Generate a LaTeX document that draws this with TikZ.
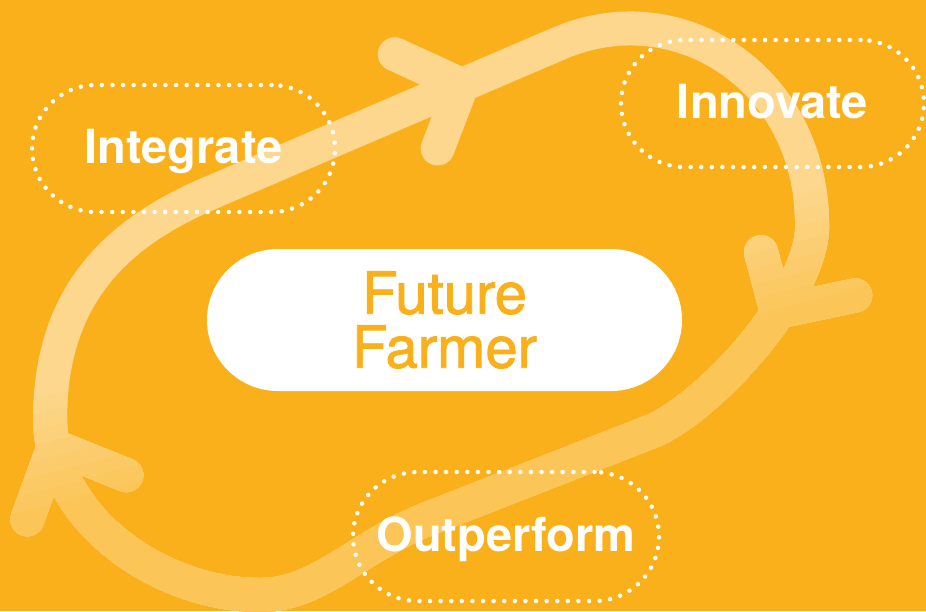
\documentclass[tikz,border=0pt]{standalone}
\usepackage{fontspec}
\setmainfont{TeX Gyre Heros}
\newfontfamily\farmerfont[FakeBold=1.5]{TeX Gyre Heros}
\definecolor{harvest}{RGB}{250,176,27}
\tikzstyle{stage}=[draw=white, line width=4.5pt, dash pattern=on 0pt off 10.6pt, line cap=round,
  minimum width=303pt, minimum height=127pt, rounded corners=63.5pt, inner sep=0pt,
  text=white, font=\fontsize{47}{50}\selectfont\bfseries, text height=34pt, text depth=4pt]
\tikzset{core/.style={fill=white, minimum width=475pt, minimum height=142pt, rounded corners=71pt,
  text=harvest, align=center, font=\fontsize{58}{54}\selectfont\farmerfont}}
\tikzset{band/.style={line width=34pt, line cap=round, line join=round}}

% the loop and its three arrowheads, in one colour
\newcommand{\cyclepath}[1]{%
  \draw[band, draw=#1] (210,193) -- (560,43)
    .. controls (680,-8) and (815,80) .. (812,230)
    .. controls (808,300) and (706,410) .. (650,432)
    -- (430,518)
    .. controls (356,547) and (320,595) .. (260,595)
    .. controls (160,595) and (52,520) .. (50,420)
    .. controls (50,300) and (111,235) .. cycle;
  \draw[band, draw=#1] ([shift={(204.6:74)}]tipTop) -- (tipTop) -- ([shift={(111:68)}]tipTop);
  \draw[band, draw=#1] ([shift={(255:62)}]tipRight) -- (tipRight) -- ([shift={(348:80)}]tipRight);
  \draw[band, draw=#1] ([shift={(110:78)}]tipLeft) -- (tipLeft) -- ([shift={(22:78)}]tipLeft);
}

\begin{document}
\begin{tikzpicture}[x=1pt, y=-1pt]
  \fill[harvest] (0,0) rectangle (926,611);
  \useasboundingbox (0,0) rectangle (926,611);

  %% The cycle, paler towards the top left
  \coordinate (tipTop) at (462,85);
  \coordinate (tipRight) at (777,312);
  \coordinate (tipLeft) at (54,446);
  \cyclepath{white!50!harvest}
  \foreach \i in {1,...,8}{
    \pgfmathsetmacro\edge{-50+15*\i}
    \pgfmathsetmacro\pale{50-2.9*\i}
    \begin{scope}
      \clip[shift={(463,321)}, rotate=15] (-1200,\edge) rectangle (1200,1200);
      \cyclepath{white!\pale!harvest}
    \end{scope}
  }

  %% Stages
  \draw (183.5,148.5) node[stage] (integrate) {Integrate};
  \draw (772.5,103.5) node[stage] (innovate) {Innovate};
  \draw (506,536.5) node[stage, minimum width=306pt, minimum height=129pt, rounded corners=64.5pt] (outperform) {Outperform};

  %% Centre
  \draw (444.5,320) node[core] (farmer) {Future\\Farmer};
\end{tikzpicture}
\end{document}
